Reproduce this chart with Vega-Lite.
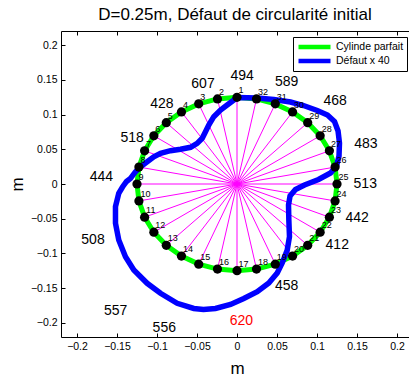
{
  "$schema": "https://vega.github.io/schema/vega-lite/v6.json",
  "width": 348,
  "height": 306,
  "autosize": {"type": "none"},
  "padding": {"left": 61, "top": 31, "right": 0, "bottom": 42},
  "background": "white",
  "title": {"text": "D=0.25m, Défaut de circularité initial", "fontSize": 17, "font": "Liberation Sans", "fontWeight": "normal", "color": "black", "anchor": "middle", "frame": "group", "baseline": "alphabetic", "offset": -6},
  "config": {
    "font": "Liberation Sans",
    "view": {"stroke": null},
    "axis": {"grid": false, "domainColor": "black", "tickColor": "black", "labelColor": "black", "titleColor": "black", "labelFont": "Liberation Sans", "titleFont": "Liberation Sans", "labelFontSize": 10.5, "titleFontSize": 17, "titleFontWeight": "normal", "tickSize": -4, "labelFlush": false, "labelPadding": 8.5}
  },
  "datasets": {
    "pts": [
      {"k": 1, "x": 0, "y": 0.125},
      {"k": 2, "x": -0.02439, "y": 0.1226},
      {"k": 3, "x": -0.04784, "y": 0.11549},
      {"k": 4, "x": -0.06945, "y": 0.10393},
      {"k": 5, "x": -0.08839, "y": 0.08839},
      {"k": 6, "x": -0.10393, "y": 0.06945},
      {"k": 7, "x": -0.11549, "y": 0.04784},
      {"k": 8, "x": -0.1226, "y": 0.02439},
      {"k": 9, "x": -0.125, "y": 0},
      {"k": 10, "x": -0.1226, "y": -0.02439},
      {"k": 11, "x": -0.11549, "y": -0.04784},
      {"k": 12, "x": -0.10393, "y": -0.06945},
      {"k": 13, "x": -0.08839, "y": -0.08839},
      {"k": 14, "x": -0.06945, "y": -0.10393},
      {"k": 15, "x": -0.04784, "y": -0.11549},
      {"k": 16, "x": -0.02439, "y": -0.1226},
      {"k": 17, "x": 0, "y": -0.125},
      {"k": 18, "x": 0.02439, "y": -0.1226},
      {"k": 19, "x": 0.04784, "y": -0.11549},
      {"k": 20, "x": 0.06945, "y": -0.10393},
      {"k": 21, "x": 0.08839, "y": -0.08839},
      {"k": 22, "x": 0.10393, "y": -0.06945},
      {"k": 23, "x": 0.11549, "y": -0.04784},
      {"k": 24, "x": 0.1226, "y": -0.02439},
      {"k": 25, "x": 0.125, "y": 0},
      {"k": 26, "x": 0.1226, "y": 0.02439},
      {"k": 27, "x": 0.11549, "y": 0.04784},
      {"k": 28, "x": 0.10393, "y": 0.06945},
      {"k": 29, "x": 0.08839, "y": 0.08839},
      {"k": 30, "x": 0.06945, "y": 0.10393},
      {"k": 31, "x": 0.04784, "y": 0.11549},
      {"k": 32, "x": 0.02439, "y": 0.1226}
    ],
    "blue": [
      {"i": 1, "x": 0.0003, "y": 0.1246},
      {"i": 2, "x": 0.0253, "y": 0.1239},
      {"i": 3, "x": 0.046, "y": 0.1218},
      {"i": 4, "x": 0.0669, "y": 0.1182},
      {"i": 5, "x": 0.0831, "y": 0.1131},
      {"i": 6, "x": 0.1003, "y": 0.1059},
      {"i": 7, "x": 0.1131, "y": 0.0994},
      {"i": 8, "x": 0.1219, "y": 0.0901},
      {"i": 9, "x": 0.1263, "y": 0.0764},
      {"i": 10, "x": 0.1281, "y": 0.0591},
      {"i": 11, "x": 0.1275, "y": 0.0403},
      {"i": 12, "x": 0.1244, "y": 0.0259},
      {"i": 13, "x": 0.1169, "y": 0.0159},
      {"i": 14, "x": 0.1019, "y": 0.0065},
      {"i": 15, "x": 0.0844, "y": -0.0014},
      {"i": 16, "x": 0.0731, "y": -0.0079},
      {"i": 17, "x": 0.0663, "y": -0.0173},
      {"i": 18, "x": 0.0644, "y": -0.0303},
      {"i": 19, "x": 0.0648, "y": -0.0519},
      {"i": 20, "x": 0.0656, "y": -0.0759},
      {"i": 21, "x": 0.0628, "y": -0.0951},
      {"i": 22, "x": 0.0565, "y": -0.1138},
      {"i": 23, "x": 0.0503, "y": -0.1282},
      {"i": 24, "x": 0.0398, "y": -0.1427},
      {"i": 25, "x": 0.0253, "y": -0.1552},
      {"i": 26, "x": 0.0085, "y": -0.165},
      {"i": 27, "x": -0.0081, "y": -0.1736},
      {"i": 28, "x": -0.0269, "y": -0.1794},
      {"i": 29, "x": -0.0419, "y": -0.1808},
      {"i": 30, "x": -0.054, "y": -0.1794},
      {"i": 31, "x": -0.0748, "y": -0.1719},
      {"i": 32, "x": -0.0956, "y": -0.1575},
      {"i": 33, "x": -0.1123, "y": -0.1431},
      {"i": 34, "x": -0.129, "y": -0.1239},
      {"i": 35, "x": -0.1394, "y": -0.1048},
      {"i": 36, "x": -0.1478, "y": -0.0807},
      {"i": 37, "x": -0.1519, "y": -0.0566},
      {"i": 38, "x": -0.1519, "y": -0.0327},
      {"i": 39, "x": -0.1478, "y": -0.0134},
      {"i": 40, "x": -0.1431, "y": -0.0043},
      {"i": 41, "x": -0.1381, "y": 0.0036},
      {"i": 42, "x": -0.1331, "y": 0.0082},
      {"i": 43, "x": -0.1269, "y": 0.0177},
      {"i": 44, "x": -0.1206, "y": 0.0249},
      {"i": 45, "x": -0.1123, "y": 0.0321},
      {"i": 46, "x": -0.104, "y": 0.0393},
      {"i": 47, "x": -0.0956, "y": 0.0442},
      {"i": 48, "x": -0.0831, "y": 0.048},
      {"i": 49, "x": -0.0706, "y": 0.05},
      {"i": 50, "x": -0.0581, "y": 0.0529},
      {"i": 51, "x": -0.0498, "y": 0.0586},
      {"i": 52, "x": -0.0435, "y": 0.0659},
      {"i": 53, "x": -0.0394, "y": 0.0754},
      {"i": 54, "x": -0.0353, "y": 0.085},
      {"i": 55, "x": -0.029, "y": 0.097},
      {"i": 56, "x": -0.0206, "y": 0.1066},
      {"i": 57, "x": -0.0123, "y": 0.1138}
    ],
    "labels": [
      {"val": 494, "x": 0.0065, "y": 0.1559},
      {"val": 607, "x": -0.0425, "y": 0.1441},
      {"val": 428, "x": -0.094, "y": 0.1153},
      {"val": 518, "x": -0.131, "y": 0.0658},
      {"val": 444, "x": -0.1696, "y": 0.0094},
      {"val": 508, "x": -0.18, "y": -0.0807},
      {"val": 557, "x": -0.1516, "y": -0.1827},
      {"val": 556, "x": -0.0909, "y": -0.2079},
      {"val": 620, "x": 0.0054, "y": -0.198},
      {"val": 458, "x": 0.0621, "y": -0.1467},
      {"val": 412, "x": 0.1253, "y": -0.0872},
      {"val": 442, "x": 0.1502, "y": -0.0483},
      {"val": 513, "x": 0.1603, "y": -0.0003},
      {"val": 483, "x": 0.161, "y": 0.0574},
      {"val": 468, "x": 0.1227, "y": 0.1199},
      {"val": 589, "x": 0.0621, "y": 0.1463}
    ]
  },
  "encoding": {
    "y": {"field": "y", "type": "quantitative", "scale": {"domain": [-0.2205, 0.2205], "nice": false, "zero": false},
          "axis": {"orient": "left", "values": [-0.2, -0.15, -0.1, -0.05, 0, 0.05, 0.1, 0.15, 0.2], "format": "~g", "labelPadding": 8, "title": "m", "titleX": -44, "titleY": 153, "titleBaseline": "middle", "titleAlign": "center", "titleAngle": -90}}
  },
  "layer": [
    {
      "data": {"name": "pts"},
      "mark": {"type": "line", "interpolate": "linear-closed", "strokeWidth": 5},
      "encoding": {
        "x": {"field": "x", "type": "quantitative", "scale": {"domain": [-0.22, 0.215], "nice": false, "zero": false},
              "axis": {"orient": "bottom", "values": [-0.2, -0.15, -0.1, -0.05, 0, 0.05, 0.1, 0.15, 0.2], "format": "~g", "title": "m", "titleX": 176, "titleY": 36, "titleBaseline": "alphabetic", "titleAlign": "center"}},
        "order": {"field": "k", "type": "quantitative"},
        "color": {"datum": "Cylinde parfait", "type": "nominal",
                  "scale": {"domain": ["Cylinde parfait", "Défaut x 40"], "range": ["#00ff00", "#0000ff"]},
                  "legend": {"orient": "none", "legendX": 232, "legendY": 6, "title": null, "symbolType": "stroke", "symbolSize": 1024, "symbolStrokeWidth": 4.5, "clipHeight": 14, "padding": 3, "strokeColor": "black", "fillColor": "white", "labelFontSize": 10.5, "labelFont": "Liberation Sans", "labelColor": "black", "labelOffset": 3, "rowPadding": 0}}
      }
    },
    {
      "data": {"name": "pts"},
      "mark": {"type": "rule", "color": "#ff00ff", "strokeWidth": 1},
      "encoding": {
        "x": {"field": "x", "type": "quantitative", "scale": {"domain": [-0.22, 0.215], "nice": false, "zero": false},
              "axis": {"orient": "top", "values": [-0.2, -0.15, -0.1, -0.05, 0, 0.05, 0.1, 0.15, 0.2], "labels": false, "title": null}},
        "x2": {"datum": 0},
        "y2": {"datum": 0}
      }
    },
    {
      "data": {"name": "blue"},
      "mark": {"type": "line", "interpolate": "linear-closed", "strokeWidth": 5.5},
      "encoding": {
        "x": {"field": "x", "type": "quantitative", "scale": {"domain": [-0.22, 0.215], "nice": false, "zero": false}, "axis": null},
        "order": {"field": "i", "type": "quantitative"},
        "color": {"datum": "Défaut x 40", "type": "nominal"}
      }
    },
    {
      "data": {"name": "pts"},
      "mark": {"type": "circle", "size": 85, "color": "black", "opacity": 1},
      "encoding": {
        "x": {"field": "x", "type": "quantitative", "scale": {"domain": [-0.22, 0.215], "nice": false, "zero": false}, "axis": null}
      }
    },
    {
      "data": {"name": "pts"},
      "mark": {"type": "text", "fontSize": 9, "align": "left", "baseline": "middle", "dx": 1.5, "dy": -7, "color": "black", "font": "Liberation Sans"},
      "encoding": {
        "x": {"field": "x", "type": "quantitative", "scale": {"domain": [-0.22, 0.215], "nice": false, "zero": false}, "axis": null},
        "text": {"field": "k", "type": "nominal"}
      }
    },
    {
      "data": {"name": "labels"},
      "mark": {"type": "text", "fontSize": 14, "align": "center", "baseline": "middle", "font": "Liberation Sans"},
      "encoding": {
        "x": {"field": "x", "type": "quantitative", "scale": {"domain": [-0.22, 0.215], "nice": false, "zero": false}, "axis": null},
        "text": {"field": "val", "type": "nominal"},
        "color": {"condition": {"test": "datum.val == 620", "value": "#ff0000"}, "value": "black"}
      }
    }
  ],
  "resolve": {"axis": {"x": "independent"}}
}
